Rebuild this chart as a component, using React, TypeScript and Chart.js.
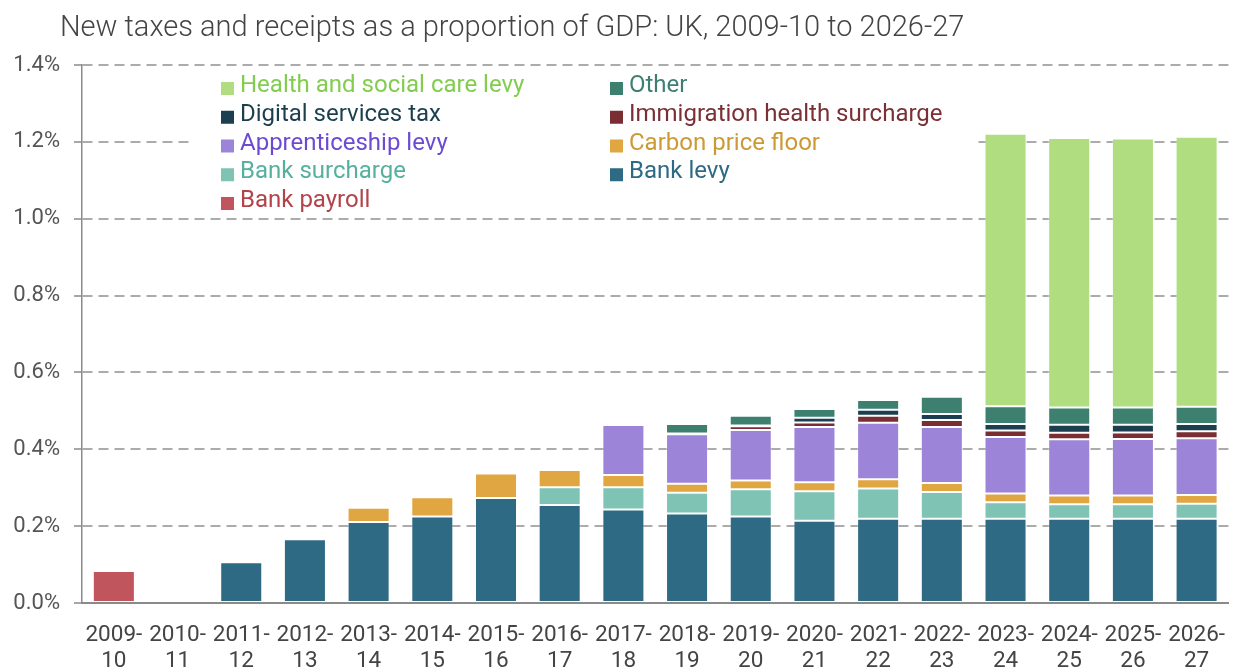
import React, { useEffect, useRef } from 'react';
import { Chart, registerables } from 'chart.js';

Chart.register(...registerables);

const TITLE = 'New taxes and receipts as a proportion of GDP: UK, 2009-10 to 2026-27';

const categories = [
  '2009-10', '2010-11', '2011-12', '2012-13', '2013-14', '2014-15', '2015-16', '2016-17', '2017-18',
  '2018-19', '2019-20', '2020-21', '2021-22', '2022-23', '2023-24', '2024-25', '2025-26', '2026-27',
];
const tickLabels = categories.map((c) => [c.slice(0, 5), c.slice(5)]);
const yTicks = [0, 0.2, 0.4, 0.6, 0.8, 1.0, 1.2, 1.4];

const bankPayroll = [0.083, null, null, null, null, null, null, null, null, null, null, null, null, null, null, null, null, null];
const bankLevy = [null, null, 0.106, 0.166, 0.211, 0.225, 0.273, 0.255, 0.243, 0.233, 0.225, 0.214, 0.219, 0.219, 0.219, 0.219, 0.219, 0.219];
const bankSurcharge = [null, null, null, null, null, null, null, 0.046, 0.058, 0.054, 0.071, 0.077, 0.079, 0.070, 0.043, 0.038, 0.038, 0.039];
const carbonPriceFloor = [null, null, null, null, 0.037, 0.050, 0.064, 0.045, 0.032, 0.023, 0.023, 0.023, 0.024, 0.023, 0.023, 0.023, 0.023, 0.023];
const apprenticeshipLevy = [null, null, null, null, null, null, null, null, 0.130, 0.129, 0.131, 0.144, 0.147, 0.146, 0.147, 0.146, 0.147, 0.148];
const immigrationSurcharge = [null, null, null, null, null, null, null, null, null, 0.002, 0.010, 0.012, 0.018, 0.018, 0.017, 0.017, 0.017, 0.018];
const digitalServicesTax = [null, null, null, null, null, null, null, null, null, null, 0.002, 0.012, 0.016, 0.016, 0.017, 0.021, 0.020, 0.019];
const other = [null, null, null, null, null, null, null, null, null, 0.025, 0.025, 0.023, 0.025, 0.045, 0.046, 0.045, 0.045, 0.045];
const healthSocialCareLevy = [null, null, null, null, null, null, null, null, null, null, null, null, null, null, 0.709, 0.701, 0.700, 0.702];

const seriesLabels = [
  'Bank payroll', 'Bank levy', 'Bank surcharge', 'Carbon price floor', 'Apprenticeship levy',
  'Immigration health surcharge', 'Digital services tax', 'Other', 'Health and social care levy',
];
const seriesData = [
  bankPayroll, bankLevy, bankSurcharge, carbonPriceFloor, apprenticeshipLevy,
  immigrationSurcharge, digitalServicesTax, other, healthSocialCareLevy,
];
const barColors = ['#c0555e', '#2e6a83', '#7fc3b4', '#dfa641', '#9c85d8', '#7a2e33', '#1b3f4e', '#3d8070', '#b0dd7f'];
const textColors = ['#b3434b', '#2e6a83', '#55b19e', '#cc9a35', '#6c4ad2', '#7a3035', '#1c3f4e', '#3d7f70', '#82cd4f'];

const FONT = 'Roboto, "Noto Sans", sans-serif';

const titlePlugin = {
  id: 'customTitle',
  afterDraw(chart: any) {
    const ctx = chart.ctx;
    ctx.save();
    ctx.font = `300 29px ${FONT}`;
    ctx.fillStyle = '#444444';
    ctx.textBaseline = 'middle';
    ctx.textAlign = 'left';
    ctx.fillText(TITLE, 60, 29);
    ctx.restore();
  },
};

const legendPlugin = {
  id: 'customLegend',
  beforeDatasetsDraw(chart: any) {
    const ctx = chart.ctx;
    ctx.save();
    ctx.fillStyle = '#ffffff';
    ctx.fillRect(192, 70, 977 - 192, 148);
    const items = chart.data.datasets.map((d: any, i: number) => ({ d, i })).reverse();
    ctx.font = `24px ${FONT}`;
    ctx.textBaseline = 'middle';
    ctx.textAlign = 'left';
    items.forEach((it: any, k: number) => {
      const col = k % 2;
      const row = Math.floor(k / 2);
      const sx = col === 0 ? 221 : 610;
      const y = 86 + row * 28.75;
      ctx.fillStyle = barColors[it.i];
      ctx.fillRect(sx, y - 4, 13, 13);
      ctx.fillStyle = textColors[it.i];
      ctx.fillText(it.d.label, sx + 19, y);
    });
    ctx.restore();
  },
};

export default function App() {
  const canvasRef = useRef<HTMLCanvasElement | null>(null);

  useEffect(() => {
    if (!canvasRef.current) return;
    const chart = new Chart(canvasRef.current, {
      type: 'bar',
      data: {
        labels: tickLabels as any,
        datasets: seriesLabels.map((label, i) => ({
          label,
          data: seriesData[i] as any,
          backgroundColor: barColors[i],
          borderColor: 'rgba(255,255,255,0.3)',
          borderWidth: 1,
          borderSkipped: false,
          categoryPercentage: 1,
          barPercentage: 0.66,
        })),
      },
      options: {
        animation: false,
        responsive: true,
        maintainAspectRatio: false,
        layout: { padding: { top: 65, left: 0, right: 0, bottom: 0 } },
        plugins: {
          legend: { display: false },
          title: { display: false },
          tooltip: { enabled: false },
        },
        scales: {
          x: {
            stacked: true,
            grid: { display: false },
            border: { display: true, color: '#8a8a8a', width: 2 },
            ticks: {
              color: '#444444',
              font: { family: FONT, size: 22.5, lineHeight: 1.16 },
              padding: 11,
              maxRotation: 0,
              autoSkip: false,
            },
            afterFit: (s: any) => { s.height = 66; },
          },
          y: {
            stacked: true,
            min: 0,
            max: 1.4,
            afterBuildTicks: (s: any) => { s.ticks = yTicks.map((v) => ({ value: v })); },
            grid: {
              color: (c: any) => (c.tick && c.tick.value === 0 ? 'rgba(0,0,0,0)' : '#ababab'),
              lineWidth: 2,
              tickLength: 8,
              tickColor: '#8a8a8a',
              tickWidth: 1.5,
            },
            border: { display: true, color: '#8a8a8a', width: 1.5, dash: [10, 6] },
            ticks: {
              color: '#555555',
              font: { family: FONT, size: 22 },
              padding: 14,
              callback: (v: any) => Number(v).toFixed(1) + '%',
            },
            afterFit: (s: any) => { s.width = 82; },
          },
        },
      },
      plugins: [legendPlugin, titlePlugin],
    });
    return () => chart.destroy();
  }, []);

  return (
    <div style={{ position: 'fixed', left: 0, top: 0, width: 1236, height: 669, background: '#fff' }}>
      <canvas ref={canvasRef} />
    </div>
  );
}
